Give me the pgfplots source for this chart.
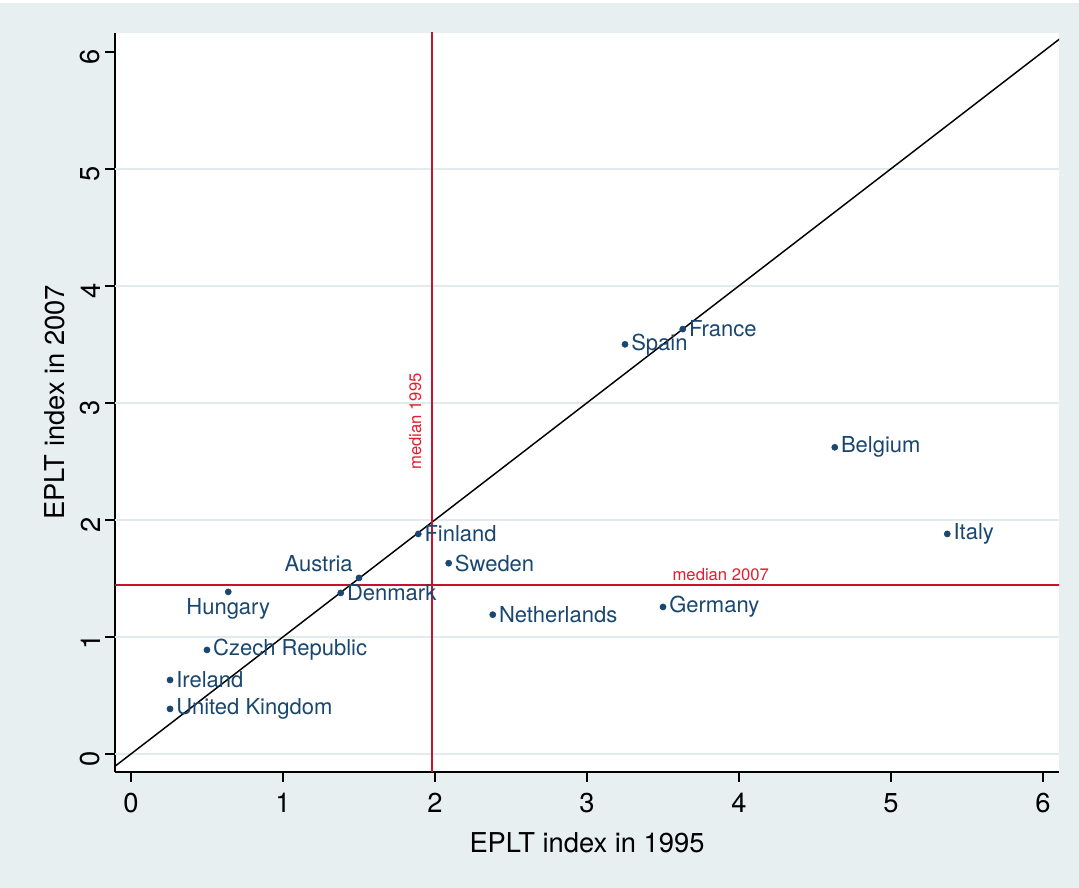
\documentclass[border=0pt]{standalone}
\usepackage{pgfplots}
\pgfplotsset{compat=1.18}
\usepackage{pgfplotstable}
\usepackage{fontspec}
\setmainfont{TeX Gyre Heros}
\definecolor{bgc}{HTML}{E7EFF1}
\definecolor{navy}{HTML}{1A476F}
\definecolor{sred}{HTML}{C4122F}
\definecolor{tred}{HTML}{E41E2E}
\definecolor{gridc}{HTML}{E1EAEC}

\pgfplotstableread{
x y label
0.257 0.385 {United Kingdom}
0.257 0.632 Ireland
0.50 0.889 {Czech Republic}
1.38 1.376 Denmark
1.89 1.88 Finland
2.09 1.63 Sweden
2.38 1.19 Netherlands
3.50 1.256 Germany
3.25 3.50 Spain
3.63 3.63 France
4.63 2.62 Belgium
5.37 1.88 Italy
}\rightlab
\pgfplotstableread{
x y label
0.64 1.385 Hungary
}\belowlab
\pgfplotstableread{
x y label
1.50 1.504 Austria
}\upleftlab

\pgfplotsset{cty/.style={only marks, mark=*, mark size=2.3pt, navy,
  nodes near coords, point meta=explicit symbolic,
  every node near coord/.append style={anchor=#1, inner sep=4.5pt, text=navy,
     font=\fontsize{16.5}{19}\selectfont}}}

\begin{document}
\begin{tikzpicture}[x=0.75pt,y=0.75pt]
\useasboundingbox (0,0) rectangle (1079,888);
\fill[bgc] (0,0) rectangle (1079,888);
\fill[white] (0,885) rectangle (1079,888);
\begin{axis}[
  at={(86.25pt,87pt)}, anchor=south west,
  scale only axis, width=708pt, height=554.25pt,
  xmin=-0.105, xmax=6.105, ymin=-0.154, ymax=6.16,
  axis lines=left,
  axis line style={-, line width=1.4pt, black},
  axis background/.style={fill=white},
  xtick={0,...,6}, ytick={0,...,6},
  tick align=outside,
  major tick length=7.5pt,
  tick style={line width=1.4pt, black},
  /pgf/number format/assume math mode=true,
  xticklabel style={font=\fontsize{20.5}{24}\selectfont, yshift=-5pt},
  yticklabel style={font=\fontsize{20.5}{24}\selectfont, rotate=90, anchor=south, xshift=-4pt},
  xlabel={EPLT index in 1995},
  ylabel={EPLT index in 2007},
  label style={font=\fontsize{20.5}{24}\selectfont},
  xlabel style={yshift=-8pt},
  ylabel style={yshift=5pt},
  clip=true,
]
\draw[gridc, line width=1.6pt] (axis cs:-0.105,0) -- (axis cs:6.105,0);
\draw[gridc, line width=1.6pt] (axis cs:-0.105,1) -- (axis cs:6.105,1);
\draw[gridc, line width=1.6pt] (axis cs:-0.105,2) -- (axis cs:6.105,2);
\draw[gridc, line width=1.6pt] (axis cs:-0.105,3) -- (axis cs:6.105,3);
\draw[gridc, line width=1.6pt] (axis cs:-0.105,4) -- (axis cs:6.105,4);
\draw[gridc, line width=1.6pt] (axis cs:-0.105,5) -- (axis cs:6.105,5);
\addplot[black, line width=1.1pt, no marks] coordinates {(-0.3,-0.3) (6.3,6.3)};
\addplot[sred, line width=1.5pt, no marks] coordinates {(1.98,-1) (1.98,7)};
\addplot[sred, line width=1.5pt, no marks] coordinates {(-1,1.444) (7,1.444)};
\addplot[cty=west] table[x=x, y=y, meta=label] {\rightlab};
\addplot[cty=north] table[x=x, y=y, meta=label] {\belowlab};
\addplot[cty=south east] table[x=x, y=y, meta=label] {\upleftlab};
\node[tred, rotate=90, font=\fontsize{12.5}{14}\selectfont] at (axis cs:1.87,2.84) {median 1995};
\node[tred, font=\fontsize{12.5}{14}\selectfont] at (axis cs:3.88,1.53) {median 2007};
\end{axis}
\end{tikzpicture}
\end{document}
